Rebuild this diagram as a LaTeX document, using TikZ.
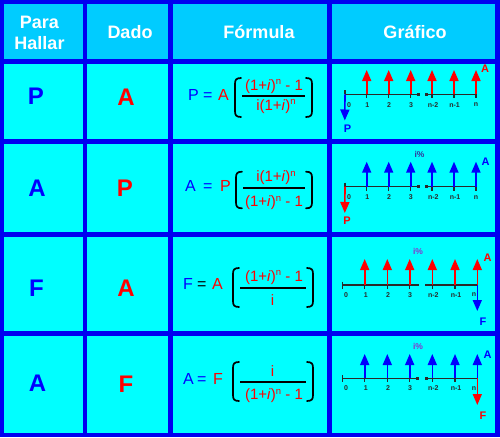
\documentclass[tikz,border=0pt]{standalone}
\usepackage{fontspec}
\setmainfont{Liberation Sans}
\usetikzlibrary{arrows.meta}
\definecolor{bordc}{HTML}{0000F0}
\definecolor{headc}{HTML}{00CCFF}
\definecolor{cellc}{HTML}{00FFFF}
\definecolor{rd}{HTML}{FF0000}
\definecolor{bl}{HTML}{0000FF}
\definecolor{vio}{HTML}{8833CC}
\definecolor{ivb}{HTML}{333399}
\definecolor{axc}{HTML}{2A2A2A}
\newcommand{\myfs}[1]{\fontsize{#1}{#1}\selectfont}
\newcommand{\myopi}{(1+\textit{i})\raisebox{5.5pt}{\myfs{9.5}n}}
\tikzset{
  hdr/.style={inner sep=0pt, anchor=base, text=white, font=\bfseries\myfs{18}},
  bigl/.style={inner sep=0pt, anchor=base, font=\bfseries\myfs{24}},
  fl/.style={inner sep=0pt, anchor=base west, font=\myfs{16}},
  fr/.style={inner sep=0pt, anchor=base, font=\myfs{15}, text=rd},
  brk/.style={line width=1.7pt, black, line cap=round},
  fline/.style={line width=1.8pt, black},
  axis/.style={line width=1.3pt, axc},
  upr/.style={line width=1.6pt, rd, -{Triangle[width=9pt,length=11pt]}},
  upb/.style={line width=1.6pt, bl, -{Triangle[width=9pt,length=11pt]}},
  lab/.style={inner sep=0pt, font=\bfseries\myfs{7}, text=axc},
  gl/.style={inner sep=0pt, font=\bfseries\myfs{11}},
  ip/.style={inner sep=0pt, font=\bfseries\myfs{8.5}},
  cell/.style={fill=cellc},
  hcell/.style={fill=headc}
}
\begin{document}
\begin{tikzpicture}[x=1pt,y=-1pt]
\useasboundingbox (0,0) rectangle (500,437);
\fill[bordc] (0,0) rectangle (500,437);
% header cells
\foreach \xa/\xb in {4/82.7,87.3/168.3,173.3/326.7,331.7/495}{
  \fill[hcell] (\xa,4) rectangle (\xb,59.3);
  \foreach \ya/\yb in {64/139.3,144/232,237/331,336/432.5}{
    \fill[cell] (\xa,\ya) rectangle (\xb,\yb);
  }
}
% header texts
\node[hdr] (hPara) at (39.5,28) {Para};
\node[hdr] (hHallar) at (39.5,49.5) {Hallar};
\node[hdr] (hDado) at (130,38) {Dado};
\node[hdr] (hFormula) at (259,38) {Fórmula};
\node[hdr] (hGrafico) at (415,38) {Gráfico};
% column 1 and 2 letters
\node[bigl, text=bl] (c1r1) at (36,104) {P};
\node[bigl, text=bl] (c1r2) at (37,196) {A};
\node[bigl, text=bl] (c1r3) at (36.5,296) {F};
\node[bigl, text=bl] (c1r4) at (37.5,391) {A};
\node[bigl, text=rd] (c2r1) at (126,105) {A};
\node[bigl, text=rd] (c2r2) at (125,196) {P};
\node[bigl, text=rd] (c2r3) at (126,296) {A};
\node[bigl, text=rd] (c2r4) at (126,392) {F};
% ---------- formulas ----------
% row 1
\node[fl, text=bl] (f1a) at (188,100) {P};
\node[fl, text=bl] (f1b) at (203,100) {=};
\node[fl, text=rd] (f1c) at (218,100) {A};
\draw[brk] (241,78) .. controls (236,78) and (235,80) .. (235,84) -- (235,111) .. controls (235,115) and (236,117) .. (241,117);
\draw[brk] (306,78) .. controls (311,78) and (312,80) .. (312,84) -- (312,111) .. controls (312,115) and (311,117) .. (306,117);
\draw[fline] (242,95.7) -- (305,95.7);
\node[fr] (f1n) at (274,90) {\myopi\ - 1};
\node[fr] (f1d) at (276,110) {i\myopi};
% row 2
\node[fl, text=bl] (f2a) at (185,191.7) {A};
\node[fl, text=bl] (f2b) at (203,191.7) {=};
\node[fl, text=rd] (f2c) at (220,191.7) {P};
\draw[brk] (242,171.7) .. controls (237,171.7) and (236,173.7) .. (236,177.7) -- (236,202.3) .. controls (236,206.3) and (237,208.3) .. (242,208.3);
\draw[brk] (306,171.7) .. controls (311,171.7) and (312,173.7) .. (312,177.7) -- (312,202.3) .. controls (312,206.3) and (311,208.3) .. (306,208.3);
\draw[fline] (243,188.3) -- (305,188.3);
\node[fr] (f2n) at (276,181.7) {i\myopi};
\node[fr] (f2d) at (274,206.7) {\myopi\ - 1};
% row 3
\node[fl, text=bl] (f3a) at (183,289) {F};
\node[fl, text=black] (f3b) at (197,289) {=};
\node[fl, text=rd] (f3c) at (212,289) {A};
\draw[brk] (239,268) .. controls (234,268) and (233,270) .. (233,274) -- (233,301) .. controls (233,305) and (234,307) .. (239,307);
\draw[brk] (307,268) .. controls (312,268) and (313,270) .. (313,274) -- (313,301) .. controls (313,305) and (312,307) .. (307,307);
\draw[fline] (240,288.3) -- (306,288.3);
\node[fr] (f3n) at (274,281) {\myopi\ - 1};
\node[fr] (f3d) at (272.5,305) {i};
% row 4
\node[fl, text=bl] (f4a) at (183,384.7) {A};
\node[fl, text=bl] (f4b) at (197,384.7) {=};
\node[fl, text=rd] (f4c) at (213,384.7) {F};
\draw[brk] (239,362) .. controls (234,362) and (233,364) .. (233,368) -- (233,395) .. controls (233,399) and (234,401) .. (239,401);
\draw[brk] (307,362) .. controls (312,362) and (313,364) .. (313,368) -- (313,395) .. controls (313,399) and (312,401) .. (307,401);
\draw[fline] (240,382.3) -- (306,382.3);
\node[fr] (f4n) at (272.5,376.3) {i};
\node[fr] (f4d) at (274,399.7) {\myopi\ - 1};
% ---------- graph row 1 ----------
\coordinate (g1o) at (345,94.3);
\coordinate (g1a) at (418.3,94.3);
\coordinate (g1b) at (426.7,94.3);
\coordinate (g1e) at (476.5,94.3);
\draw[axis] (g1o) -- (g1a);
\draw[axis] (g1b) -- (g1e);
\fill[axc] (g1a) +(-1.4,-1.4) rectangle +(1.4,1.4);
\fill[axc] (g1b) +(-1.4,-1.4) rectangle +(1.4,1.4);
\coordinate (g1ot) at (345,90);
\draw[axis] (g1ot) -- (g1o);
\foreach \x [count=\i] in {366.7,388.7,410.7,432,454,476}{
  \coordinate (g1b\i) at (\x,94.3);
  \coordinate (g1t\i) at (\x,70);
  \draw[axis] (\x,91) -- (\x,98);
  \draw[upr] (g1b\i) -- (g1t\i);
}
\coordinate (g1d) at (344.8,120.5);
\draw[upb] (g1o) -- (g1d);
\foreach \x/\t [count=\i] in {349/0,367.3/1,389/2,411/3,433/n-2,454.5/n-1,476/n}{
  \node[lab] (g1l\i) at (\x,105) {\t};
}
\node[gl, text=rd] (g1A) at (485,69) {A};
\node[gl, text=bl] (g1P) at (347.5,129) {P};
\begin{scope}
\clip (331.7,64) rectangle (495,139.3);
\node[ip, text=ivb] (g1i) at (419,61.5) {i\%};
\end{scope}
% ---------- graph row 2 ----------
\coordinate (g2o) at (345,186.7);
\coordinate (g2a) at (418.3,186.7);
\coordinate (g2b) at (426.7,186.7);
\coordinate (g2e) at (476.5,186.7);
\draw[axis] (g2o) -- (g2a);
\draw[axis] (g2b) -- (g2e);
\fill[axc] (g2a) +(-1.4,-1.4) rectangle +(1.4,1.4);
\fill[axc] (g2b) +(-1.4,-1.4) rectangle +(1.4,1.4);
\coordinate (g2ot) at (345,182.5);
\draw[axis] (g2ot) -- (g2o);
\foreach \x [count=\i] in {366.7,388.7,410.7,432,454,476}{
  \coordinate (g2b\i) at (\x,186.7);
  \coordinate (g2t\i) at (\x,161.7);
  \draw[axis] (\x,183.5) -- (\x,190.5);
  \draw[upb] (g2b\i) -- (g2t\i);
}
\coordinate (g2d) at (344.8,213);
\draw[upr] (g2o) -- (g2d);
\foreach \x/\t [count=\i] in {349/0,367.3/1,389/2,410.7/3,433.3/n-2,455/n-1,476/n}{
  \node[lab] (g2l\i) at (\x,197.3) {\t};
}
\node[gl, text=bl] (g2A) at (485.5,162) {A};
\node[gl, text=rd] (g2P) at (347,221) {P};
\node[ip, text=ivb] (g2i) at (419.5,154.5) {i\%};
% ---------- graph row 3 ----------
\coordinate (g3o) at (342.3,285);
\coordinate (g3a) at (417.7,285);
\coordinate (g3b) at (426.7,285);
\coordinate (g3e) at (477.3,285);
\draw[axis] (g3o) -- (g3a);
\draw[axis] (g3b) -- (g3e);
\fill[axc] (g3a) +(-1.4,-1.4) rectangle +(1.4,1.4);
\fill[axc] (g3b) +(-1.4,-1.4) rectangle +(1.4,1.4);
\coordinate (g3ot) at (342.3,281.5);
\coordinate (g3ob) at (342.3,288.5);
\draw[axis] (g3ot) -- (g3ob);
\foreach \x [count=\i] in {364.7,387.3,409.7,432.3,455,477.3}{
  \coordinate (g3b\i) at (\x,285);
  \coordinate (g3t\i) at (\x,259);
  \draw[axis] (\x,282) -- (\x,289);
  \draw[upr] (g3b\i) -- (g3t\i);
}
\coordinate (g3d) at (477.3,311);
\draw[upb] (g3e) -- (g3d);
\foreach \x/\t [count=\i] in {346/0,365.7/1,388/2,410/3,433.3/n-2,456/n-1,474/n}{
  \node[lab] (g3l\i) at (\x,295) {\t};
}
\node[gl, text=rd] (g3A) at (487.5,258) {A};
\node[gl, text=bl] (g3F) at (483,321.5) {F};
\node[ip, text=vio] (g3i) at (418,251.5) {i\%};
% ---------- graph row 4 ----------
\coordinate (g4o) at (342.3,378.3);
\coordinate (g4a) at (417.3,378.3);
\coordinate (g4b) at (426.7,378.3);
\coordinate (g4e) at (477.3,378.3);
\draw[axis] (g4o) -- (g4a);
\draw[axis] (g4b) -- (g4e);
\fill[axc] (g4a) +(-1.4,-1.4) rectangle +(1.4,1.4);
\fill[axc] (g4b) +(-1.4,-1.4) rectangle +(1.4,1.4);
\coordinate (g4ot) at (342.3,374.8);
\coordinate (g4ob) at (342.3,381.8);
\draw[axis] (g4ot) -- (g4ob);
\foreach \x [count=\i] in {364.7,387.3,409.7,432.3,455,477.3}{
  \coordinate (g4b\i) at (\x,378.3);
  \coordinate (g4t\i) at (\x,354);
  \draw[axis] (\x,375.3) -- (\x,382.3);
  \draw[upb] (g4b\i) -- (g4t\i);
}
\coordinate (g4d) at (477.3,405);
\draw[upr] (g4e) -- (g4d);
\foreach \x/\t [count=\i] in {346/0,365.7/1,388/2,410/3,433.3/n-2,456/n-1,474/n}{
  \node[lab] (g4l\i) at (\x,388.3) {\t};
}
\node[gl, text=bl] (g4A) at (487.5,354.5) {A};
\node[gl, text=rd] (g4F) at (483,416) {F};
\node[ip, text=vio] (g4i) at (418,346.5) {i\%};
\end{tikzpicture}
\end{document}
